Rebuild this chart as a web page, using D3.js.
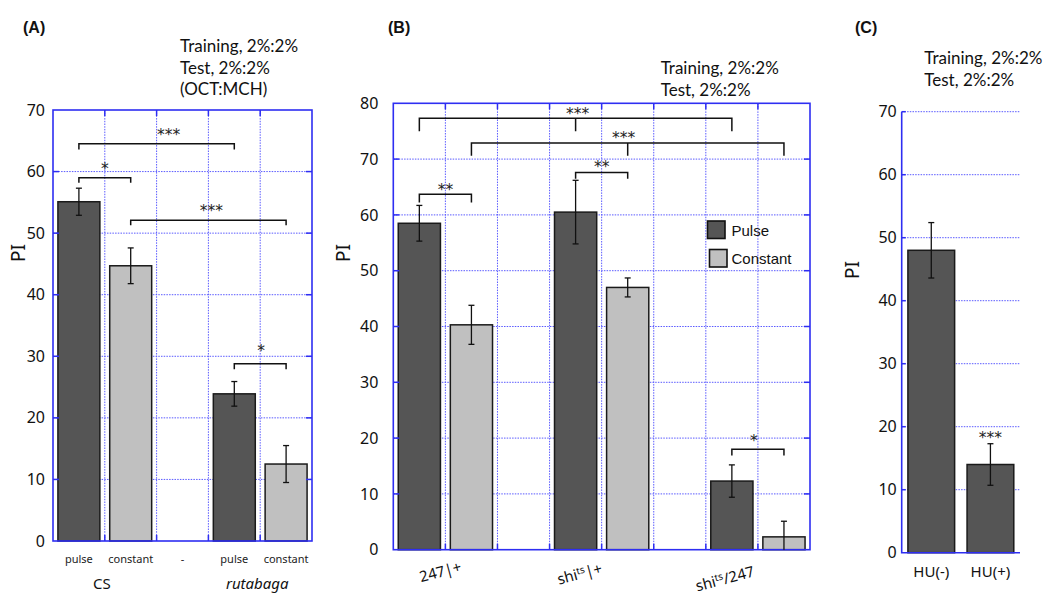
<!DOCTYPE html>
<html><head><meta charset="utf-8">
<script src="https://cdn.jsdelivr.net/npm/d3@7"></script>
<style>body{margin:0;background:#fff} svg{display:block}</style>
</head><body>
<svg id="chart" width="1050" height="615"></svg>
<script>
// ---------------- Panel A data ----------------
const panelA_categories = ["pulse", "constant", "-", "pulse", "constant"];
const panelA_series = ["pulse", "constant", null, "pulse", "constant"];
const panelA_values = [55.1, 44.7, null, 23.9, 12.5];
const panelA_errors = [2.2, 2.9, null, 2.0, 3.0];
const panelA_groups = ["CS", "rutabaga"];
const panelA_groupItalic = [false, true];
const panelA_yTicks = [0, 10, 20, 30, 40, 50, 60, 70];
const panelA_notes = ["Training, 2%:2%", "Test, 2%:2%", "(OCT:MCH)"];
const panelA_brackets = [
  {from: 0, to: 3, y: 64.5, drop: 0.9, label: "***", shift: 12, gap: 12.5},
  {from: 0, to: 1, y: 59.0, drop: 0.8, label: "*", shift: 0, gap: 12.5},
  {from: 1, to: 4, y: 52.1, drop: 0.8, label: "***", shift: 3, gap: 13},
  {from: 3, to: 4, y: 28.8, drop: 0.9, label: "*", shift: 1, gap: 17}
];

// ---------------- Panel B data ----------------
const panelB_groups = [
  [{t: "247|+"}],
  [{t: "shi"}, {t: "ts", sup: true}, {t: "|+"}],
  [{t: "shi"}, {t: "ts", sup: true}, {t: "/247"}]
];
const panelB_pulse = [58.5, 60.5, 12.3];
const panelB_pulseErr = [3.2, 5.7, 2.9];
const panelB_constant = [40.3, 47.0, 2.3];
const panelB_constantErr = [3.5, 1.7, 2.8];
const panelB_yTicks = [0, 10, 20, 30, 40, 50, 60, 70, 80];
const panelB_legend = ["Pulse", "Constant"];
const panelB_notes = ["Training, 2%:2%", "Test, 2%:2%"];
const panelB_brackets = [
  {from: 0, to: 6, mid: 3, y: 77.3, drop: 2.3, label: "***", shift: 2, gap: 8.5},
  {from: 1, to: 7, mid: 4, y: 72.9, drop: 2.3, label: "***", shift: -4, gap: 8.5},
  {from: 0, to: 1, y: 63.7, drop: 1.5, label: "**", shift: 0, gap: 8},
  {from: 3, to: 4, y: 67.6, drop: 1.1, label: "**", shift: 0, gap: 9},
  {from: 6, to: 7, y: 18.0, drop: 1.1, label: "*", shift: -4, gap: 12}
];

// ---------------- Panel C data ----------------
const panelC_categories = ["HU(-)", "HU(+)"];
const panelC_values = [48.0, 14.0];
const panelC_errors = [4.4, 3.3];
const panelC_marks = ["", "***"];
const panelC_yTicks = [0, 10, 20, 30, 40, 50, 60, 70];
const panelC_notes = ["Training, 2%:2%", "Test, 2%:2%"];

// ---------------- styles ----------------
const COLORS = {pulse: "#555555", constant: "#c0c0c0"};
const BLUE = "#2e2ef2", GRID = "#5a5aff";
const NUM_FONT = "'Noto Sans', sans-serif";
const NOTE_FONT = "Lato, sans-serif";
const TITLE_FONT = "'Liberation Sans', Arial, sans-serif";
const STAR_FONT = "'DejaVu Sans', sans-serif";

const svg = d3.select("#chart");

function notes(lines, x, y0, step) {
  lines.forEach((t, i) => svg.append("text").attr("x", x).attr("y", y0 + i * step)
    .attr("font-family", NOTE_FONT).attr("font-size", 17).attr("fill", "#111").text(t));
}
function title(t, x) {
  svg.append("text").attr("x", x).attr("y", 33).attr("font-family", TITLE_FONT)
    .attr("font-weight", "bold").attr("font-size", 16).attr("fill", "#111").text(t);
}
function piLabel(x, y) {
  svg.append("text").attr("transform", `translate(${x},${y}) rotate(-90)`)
    .attr("text-anchor", "middle").attr("dominant-baseline", "central")
    .attr("font-family", NUM_FONT).attr("font-size", 19).attr("fill", "#111").text("PI");
}
function yAxis(g, y, ticks, left, pad) {
  const ax = g.append("g").attr("transform", `translate(${left},0)`)
    .call(d3.axisLeft(y).tickValues(ticks).tickSize(0).tickPadding(pad));
  ax.select(".domain").remove();
  ax.selectAll("text").attr("font-family", NUM_FONT).attr("font-size", 16).attr("fill", "#111");
}
function stars(g, label, cx, cy) {
  const fs = 15.5, ls = 0;
  g.append("text").attr("x", cx).attr("y", cy + 0.58 * fs)
    .attr("text-anchor", "middle").attr("font-family", STAR_FONT).attr("font-size", fs)
    .attr("letter-spacing", ls).attr("fill", "#222").text(label);
}
function errorBar(g, cx, y, v, e, cap) {
  if (v == null) return;
  const lo = Math.max(0, v - e), hi = v + e;
  g.append("line").attr("x1", cx).attr("x2", cx).attr("y1", y(lo)).attr("y2", y(hi))
    .attr("stroke", "#111").attr("stroke-width", 1.3);
  [hi].concat(v - e >= 0 ? [lo] : []).forEach(val =>
    g.append("line").attr("x1", cx - cap).attr("x2", cx + cap).attr("y1", y(val)).attr("y2", y(val))
      .attr("stroke", "#111").attr("stroke-width", 1.3));
}
function bracket(g, b, xc, y) {
  const x1 = xc(b.from), x2 = xc(b.to), yy = y(b.y), yd = y(b.y - b.drop);
  let d = `M${x1},${yd}V${yy}H${x2}V${yd}`;
  if (b.mid != null) d += `M${xc(b.mid)},${yy}V${yd}`;
  g.append("path").attr("d", d).attr("fill", "none").attr("stroke", "#111").attr("stroke-width", 1.5);
  stars(g, b.label, (x1 + x2) / 2 + b.shift, yy - b.gap);
}

// framed grid panel (A and B)
function framedPanel(g, L, R, T, B, nCols, y, ticks) {
  const cols = d3.scaleLinear().domain([0, nCols]).range([L, R]);
  const grid = g.append("g");
  ticks.filter(t => y(t) > T + 1 && y(t) < B - 1).forEach(t => {
    grid.append("line").attr("x1", L).attr("x2", R).attr("y1", y(t)).attr("y2", y(t))
      .attr("stroke", GRID).attr("stroke-width", 1).attr("stroke-dasharray", "1.5,1.2");
  });
  d3.range(1, nCols).forEach(i => {
    grid.append("line").attr("x1", cols(i)).attr("x2", cols(i)).attr("y1", T).attr("y2", B)
      .attr("stroke", GRID).attr("stroke-width", 1).attr("stroke-dasharray", "1.5,1.2");
  });
  return cols;
}
function frameOverlay(g, L, R, T, B, nCols, cols, y, ticks) {
  const tl = 6;
  ticks.filter(t => y(t) > T + 1 && y(t) < B - 1).forEach(t => {
    g.append("line").attr("x1", L).attr("x2", L + tl).attr("y1", y(t)).attr("y2", y(t)).attr("stroke", BLUE).attr("stroke-width", 1.5);
    g.append("line").attr("x1", R - tl).attr("x2", R).attr("y1", y(t)).attr("y2", y(t)).attr("stroke", BLUE).attr("stroke-width", 1.5);
  });
  d3.range(1, nCols).forEach(i => {
    g.append("line").attr("x1", cols(i)).attr("x2", cols(i)).attr("y1", T).attr("y2", T + tl).attr("stroke", BLUE).attr("stroke-width", 1.5);
    g.append("line").attr("x1", cols(i)).attr("x2", cols(i)).attr("y1", B - tl).attr("y2", B).attr("stroke", BLUE).attr("stroke-width", 1.5);
  });
  g.append("rect").attr("x", L).attr("y", T).attr("width", R - L).attr("height", B - T)
    .attr("fill", "none").attr("stroke", BLUE).attr("stroke-width", 1.6);
}

// ================= Panel A =================
(function () {
  const L = 53, R = 312, T = 110, B = 541;
  const g = svg.append("g");
  const y = d3.scaleLinear().domain([0, 70]).range([B, T]);
  const idx = panelA_categories.map((d, i) => i);
  const x = d3.scaleBand().domain(idx).range([L, R]).paddingInner(0.19).paddingOuter(0.095);
  const cols = framedPanel(g, L, R, T, B, idx.length, y, panelA_yTicks);
  const xc = i => x(i) + x.bandwidth() / 2;
  idx.forEach(i => {
    if (panelA_values[i] == null) return;
    g.append("rect").attr("x", x(i)).attr("width", x.bandwidth())
      .attr("y", y(panelA_values[i])).attr("height", y(0) - y(panelA_values[i]))
      .attr("fill", COLORS[panelA_series[i]]).attr("stroke", "#1a1a1a").attr("stroke-width", 1.5);
  });
  frameOverlay(g, L, R, T, B, idx.length, cols, y, panelA_yTicks);
  idx.forEach(i => errorBar(g, xc(i), y, panelA_values[i], panelA_errors[i], 3));
  panelA_brackets.forEach(b => bracket(g, b, xc, y));
  yAxis(g, y, panelA_yTicks, L, 8);
  idx.forEach(i => g.append("text").attr("x", xc(i)).attr("y", 563).attr("text-anchor", "middle")
    .attr("font-family", NUM_FONT).attr("font-size", 11).attr("fill", "#222").text(panelA_categories[i]));
  panelA_groups.forEach((gname, k) => {
    const cx = (xc(3 * k) + xc(3 * k + 1)) / 2 - 3;
    g.append("text").attr("x", cx).attr("y", 589).attr("text-anchor", "middle")
      .attr("font-family", NUM_FONT).attr("font-size", 15).attr("fill", "#111")
      .attr("font-style", panelA_groupItalic[k] ? "italic" : "normal").text(gname);
  });
  piLabel(18, 253);
  title("(A)", 23);
  notes(panelA_notes, 180, 52, 21.5);
})();

// ================= Panel B =================
(function () {
  const L = 393.3, R = 810, T = 103.3, B = 549.7;
  const g = svg.append("g");
  const y = d3.scaleLinear().domain([0, 80]).range([B, T]);
  const slots = [];
  panelB_groups.forEach((gr, k) => {
    slots.push({g: k, s: "pulse", v: panelB_pulse[k], e: panelB_pulseErr[k]});
    slots.push({g: k, s: "constant", v: panelB_constant[k], e: panelB_constantErr[k]});
    if (k < panelB_groups.length - 1) slots.push({g: k, s: null, v: null, e: null});
  });
  const idx = slots.map((d, i) => i);
  const x = d3.scaleBand().domain(idx).range([L, R]).paddingInner(0.19).paddingOuter(0.095);
  const xc = i => x(i) + x.bandwidth() / 2;
  const cols = framedPanel(g, L, R, T, B, idx.length, y, panelB_yTicks);
  slots.forEach((d, i) => {
    if (d.v == null) return;
    g.append("rect").attr("x", x(i)).attr("width", x.bandwidth())
      .attr("y", y(d.v)).attr("height", y(0) - y(d.v))
      .attr("fill", COLORS[d.s]).attr("stroke", "#1a1a1a").attr("stroke-width", 1.5);
  });
  frameOverlay(g, L, R, T, B, idx.length, cols, y, panelB_yTicks);
  slots.forEach((d, i) => errorBar(g, xc(i), y, d.v, d.e, 3));
  panelB_brackets.forEach(b => bracket(g, b, xc, y));
  yAxis(g, y, panelB_yTicks, L, 15);
  // legend
  const lg = [{s: "pulse", dx: 0, yy: 221}, {s: "constant", dx: 2, yy: 249.5}];
  panelB_legend.forEach((t, k) => {
    g.append("rect").attr("x", 707.5 + lg[k].dx).attr("y", lg[k].yy).attr("width", 17.5).attr("height", 17.5)
      .attr("fill", COLORS[lg[k].s]).attr("stroke", "#111").attr("stroke-width", 1.6);
    g.append("text").attr("x", 731.5).attr("y", lg[k].yy + 14.5).attr("font-family", TITLE_FONT)
      .attr("font-size", 15).attr("fill", "#111").text(t);
  });
  // rotated group labels
  const labelOffsets = [{dx: -5, y: 572}, {dx: -22, y: 574}, {dx: -33, y: 579}];
  panelB_groups.forEach((parts, k) => {
    const gc = (xc(3 * k) + xc(3 * k + 1)) / 2;
    const holder = g.append("g")
      .attr("transform", `translate(${gc + labelOffsets[k].dx},${labelOffsets[k].y}) rotate(-15)`);
    const t = holder.append("text").attr("x", 0).attr("y", 5)
      .attr("text-anchor", "middle")
      .attr("font-family", NUM_FONT).attr("font-size", 15).attr("fill", "#111");
    parts.forEach((p, j) => {
      const ts = t.append("tspan").text(p.t);
      if (p.sup) ts.attr("font-size", 10).attr("dy", -5);
      else if (j > 0) ts.attr("dy", 5);
    });
  });
  piLabel(343, 253);
  title("(B)", 388);
  notes(panelB_notes, 660.7, 74, 22);
})();

// ================= Panel C =================
(function () {
  const L = 901.7, R = 1020, T = 111.7, B = 552.7;
  const g = svg.append("g");
  const y = d3.scaleLinear().domain([0, 70]).range([B, T]);
  const x = d3.scaleBand().domain(panelC_categories).range([L, R]).paddingInner(0.21).paddingOuter(0.105);
  panelC_yTicks.filter(t => t > 0).forEach(t => {
    g.append("line").attr("x1", L).attr("x2", R).attr("y1", y(t)).attr("y2", y(t))
      .attr("stroke", GRID).attr("stroke-width", 1).attr("stroke-dasharray", "1.5,1.2");
  });
  panelC_categories.forEach((c, i) => {
    const v = panelC_values[i];
    g.append("rect").attr("x", x(c)).attr("width", x.bandwidth()).attr("y", y(v)).attr("height", y(0) - y(v))
      .attr("fill", COLORS.pulse).attr("stroke", "#1a1a1a").attr("stroke-width", 1.5);
  });
  panelC_yTicks.filter(t => t > 0).forEach(t => {
    g.append("line").attr("x1", L).attr("x2", L + 4).attr("y1", y(t)).attr("y2", y(t)).attr("stroke", BLUE).attr("stroke-width", 1.5);
  });
  g.append("path").attr("d", `M${L},${T}V${B}H${R}`).attr("fill", "none").attr("stroke", BLUE).attr("stroke-width", 1.6);
  panelC_categories.forEach((c, i) => {
    const cx = x(c) + x.bandwidth() / 2;
    errorBar(g, cx, y, panelC_values[i], panelC_errors[i], 3);
    if (panelC_marks[i]) stars(g, panelC_marks[i], cx, y(panelC_values[i] + panelC_errors[i]) - 10);
    g.append("text").attr("x", cx).attr("y", 577).attr("text-anchor", "middle")
      .attr("font-family", NUM_FONT).attr("font-size", 15).attr("fill", "#111").text(c);
  });
  yAxis(g, y, panelC_yTicks, L, 5);
  piLabel(852, 270);
  title("(C)", 855);
  notes(panelC_notes, 924.3, 64, 22);
})();
</script>
</body></html>
